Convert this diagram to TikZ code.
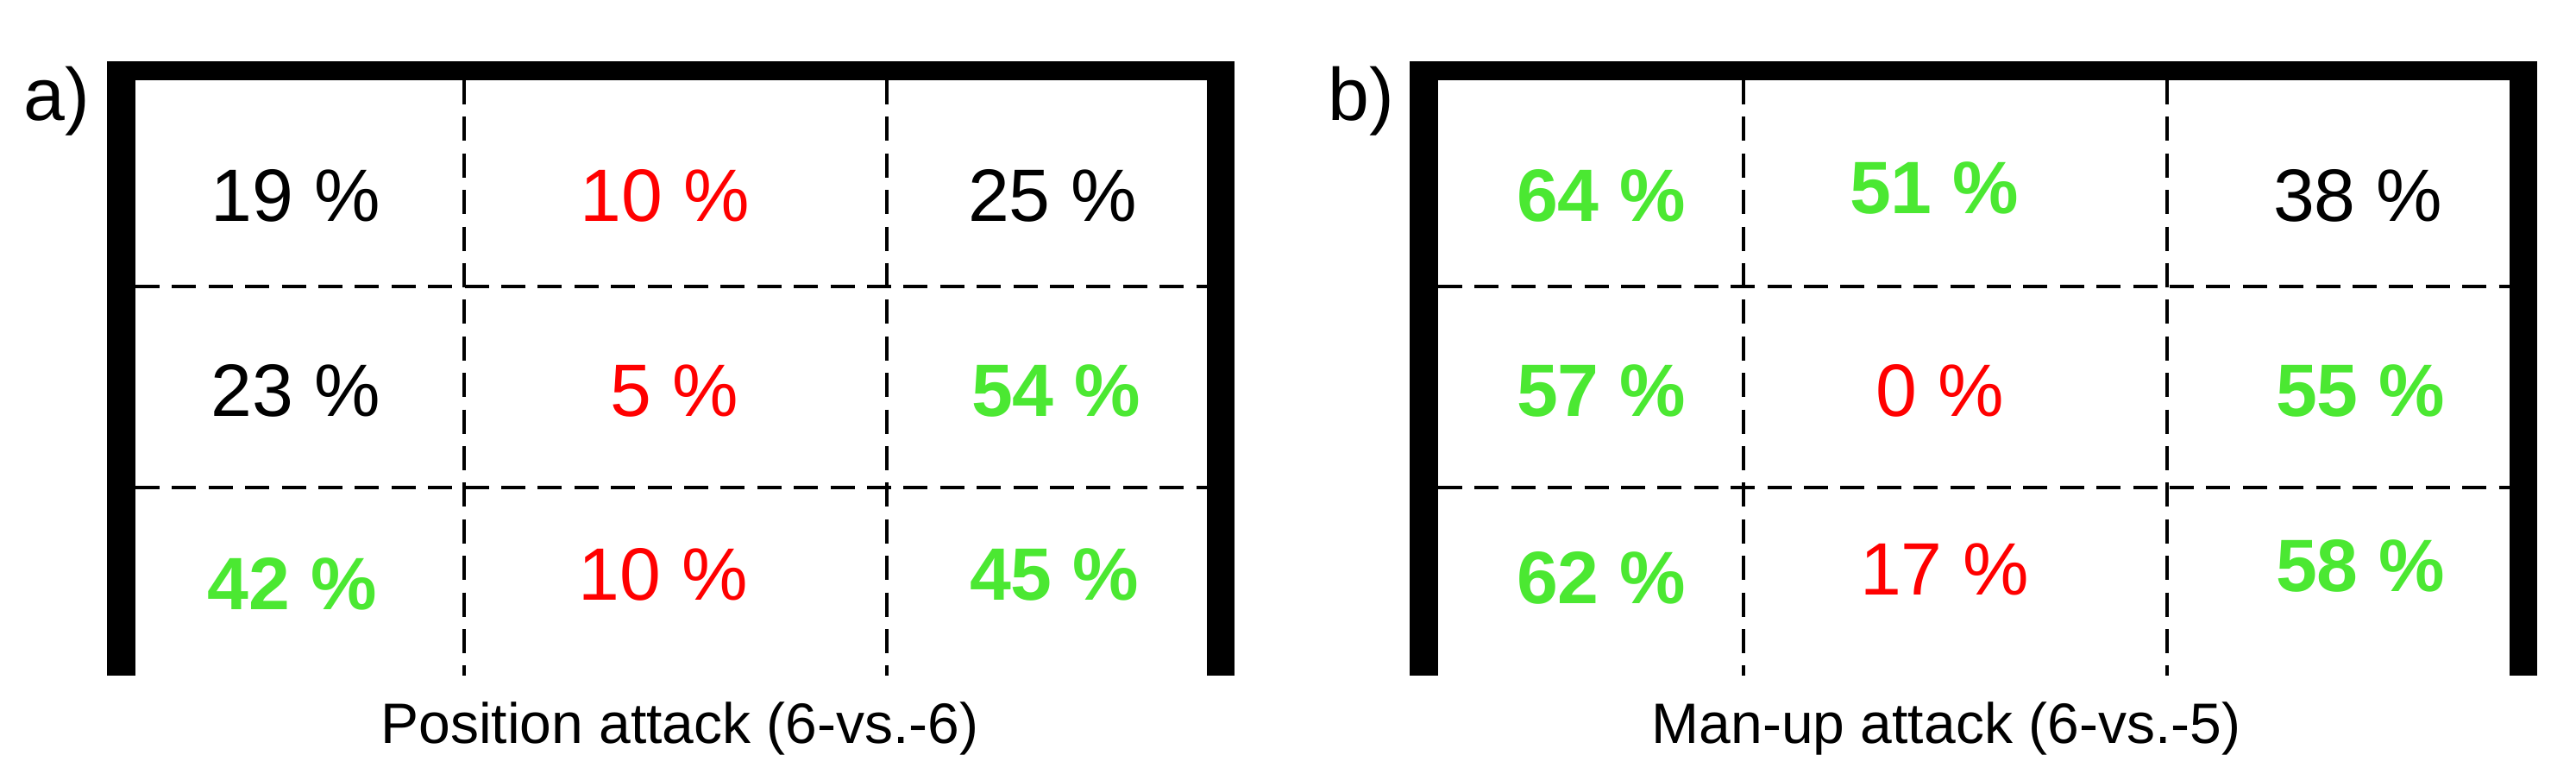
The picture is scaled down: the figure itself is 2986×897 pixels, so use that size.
\documentclass[tikz,border=0pt]{standalone}
\usepackage{fontspec}
\setmainfont{Liberation Sans}
\definecolor{pgreen}{RGB}{75,232,50}
\definecolor{pred}{RGB}{255,0,0}
\tikzset{
  post/.style={fill=black,draw=none},
  gridline/.style={black,line width=0.8pt,dash pattern=on 7pt off 3.6pt},
  num/.style={anchor=base,inner sep=0pt,font=\fontsize{21.5}{25}\selectfont},
  gnum/.style={num,text=pgreen,font=\fontsize{21.5}{25}\selectfont\bfseries},
  rnum/.style={num,text=pred},
  panellabel/.style={anchor=base,inner sep=0pt,font=\fontsize{21.5}{25}\selectfont},
  captext/.style={anchor=base,inner sep=0pt,font=\fontsize{16.5}{20}\selectfont}
}
\begin{document}
\begin{tikzpicture}[x=0.25pt,y=-0.25pt]
\useasboundingbox (0,0) rectangle (2986,897);
% ---------- panel a ----------
\fill[post] (124,71) rectangle (157,783);
\fill[post] (124,71) rectangle (1431,93);
\fill[post] (1399,71) rectangle (1431,783);
\draw[gridline] (157,332) -- (1399,332);
\draw[gridline] (157,565) -- (1399,565);
\draw[gridline] (538,93) -- (538,783);
\draw[gridline] (1028,93) -- (1028,783);
\node[panellabel] (la) at (66,140) {a)};
\node[num]  (a11) at (343,257) {19 \%};
\node[rnum] (a12) at (771,257) {10 \%};
\node[num]  (a13) at (1220,257) {25 \%};
\node[num]  (a21) at (343,483) {23 \%};
\node[rnum] (a22) at (782,483) {5 \%};
\node[gnum] (a23) at (1224,483) {54 \%};
\node[gnum] (a31) at (339,706) {42 \%};
\node[rnum] (a32) at (769,695) {10 \%};
\node[gnum] (a33) at (1222,695) {45 \%};
\node[captext] (ca) at (788,861) {Position attack (6-vs.-6)};
% ---------- panel b ----------
\fill[post] (1634,71) rectangle (1667,783);
\fill[post] (1634,71) rectangle (2941,93);
\fill[post] (2909,71) rectangle (2941,783);
\draw[gridline] (1667,332) -- (2909,332);
\draw[gridline] (1667,565) -- (2909,565);
\draw[gridline] (2021,93) -- (2021,783);
\draw[gridline] (2512,93) -- (2512,783);
\node[panellabel] (lb) at (1578,140) {b)};
\node[gnum] (b11) at (1856,257) {64 \%};
\node[gnum] (b12) at (2242,248) {51 \%};
\node[num]  (b13) at (2733,257) {38 \%};
\node[gnum] (b21) at (1856,483) {57 \%};
\node[rnum] (b22) at (2249,483) {0 \%};
\node[gnum] (b23) at (2736,483) {55 \%};
\node[gnum] (b31) at (1856,699) {62 \%};
\node[rnum] (b32) at (2254,689) {17 \%};
\node[gnum] (b33) at (2736,685) {58 \%};
\node[captext] (cb) at (2256,861) {Man-up attack (6-vs.-5)};
\end{tikzpicture}
\end{document}
